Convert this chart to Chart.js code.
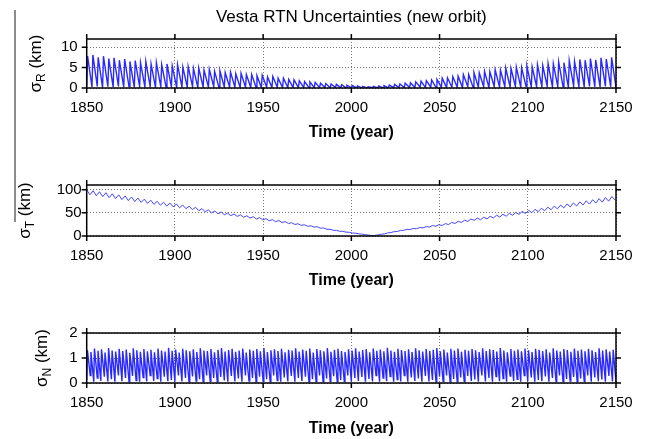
<!DOCTYPE html>
<html>
<head>
<meta charset="utf-8">
<script src="https://cdn.jsdelivr.net/npm/chart.js@4.4.1/dist/chart.umd.min.js"></script>
<style>
  html, body { margin: 0; padding: 0; background: #fff; }
  #wrap { position: relative; width: 648px; height: 439px; overflow: hidden; background: #fff; }
  #wrap canvas { position: absolute; left: 0; }
  #bar { position: absolute; left: 14px; top: 10px; width: 2px; height: 212px; background: #8c8c8c; }
</style>
</head>
<body>
<div id="wrap">
  <canvas id="chartR" width="648" height="150" style="top:0"></canvas>
  <canvas id="chartT" width="648" height="150" style="top:150px"></canvas>
  <canvas id="chartN" width="648" height="139" style="top:300px"></canvas>
  <div id="bar"></div>
</div>
<script>
// text
const title = "Vesta RTN Uncertainties (new orbit)";
const xLabel = "Time (year)";
const yearTicks = [1850, 1900, 1950, 2000, 2050, 2100, 2150];
const rTicks = [0, 5, 10];
const tTicks = [0, 50, 100];
const nTicks = [0, 1, 2];

// sigma R (km): low/high pairs, one pair per 3 yr cycle, high comes 0.5 yr after low
const rStart = 1850, rPeriod = 3.0, rRise = 0.5;
const sigmaR = [
    0.3, 7.8, 0.2, 8.1, 0.4, 7.5, 0.1, 7.8, 0.3, 7.2, 0.2, 7.4, 0.4, 6.8, 0.2, 7.1, 0.3, 6.5, 0.1, 6.7,
    0.3, 6.2, 0.2, 6.5, 0.3, 5.9, 0.1, 6.2, 0.3, 5.7, 0.2, 5.9, 0.3, 5.4, 0.1, 5.7, 0.2, 5.1, 0.2, 5.3,
    0.3, 4.8, 0.1, 4.9, 0.2, 4.4, 0.2, 4.6, 0.3, 4.1, 0.1, 4.2, 0.2, 3.8, 0.2, 3.9, 0.2, 3.5, 0.1, 3.6,
    0.2, 3.3, 0.1, 3.3, 0.2, 3.0, 0.1, 3.1, 0.2, 2.7, 0.1, 2.8, 0.2, 2.4, 0.1, 2.4, 0.1, 2.1, 0.1, 2.0,
    0.1, 1.8, 0.1, 1.6, 0.1, 1.5, 0.1, 1.4, 0.1, 1.2, 0.1, 1.1, 0.05, 1.0, 0.1, 0.9, 0.05, 0.8, 0.05, 0.7,
    0.05, 0.6, 0.05, 0.5, 0.05, 0.4, 0.05, 0.3, 0.05, 0.4, 0.05, 0.5, 0.05, 0.6, 0.05, 0.7, 0.1, 0.9, 0.1, 1.0,
    0.1, 1.2, 0.1, 1.3, 0.1, 1.5, 0.2, 1.7, 0.1, 1.8, 0.2, 2.0, 0.1, 2.1, 0.2, 2.4, 0.1, 2.5, 0.2, 2.8,
    0.2, 2.9, 0.1, 3.3, 0.3, 3.3, 0.2, 3.8, 0.2, 3.7, 0.3, 4.1, 0.1, 4.0, 0.3, 4.5, 0.2, 4.4, 0.3, 4.9,
    0.2, 4.8, 0.3, 5.1, 0.2, 5.0, 0.4, 5.4, 0.2, 5.2, 0.3, 5.7, 0.3, 5.5, 0.4, 6.0, 0.2, 5.9, 0.3, 6.4,
    0.3, 6.2, 0.2, 6.7, 0.4, 6.5, 0.3, 7.0, 0.2, 6.8, 0.4, 7.2, 0.3, 6.9, 0.2, 7.4, 0.4, 7.1, 0.3, 7.5,
    0.2
];

// sigma T (km): high/low pairs, one pair per orbit (3.63 yr), low half an orbit later
const tStart = 1850, tPeriod = 3.63, tRise = 1.815;
const sigmaT = [
    100, 89, 97.7, 86.9, 95.4, 84.8, 93.3, 82.7, 91, 80.6,
    88.7, 78.5, 86.4, 76.4, 84.1, 74.4, 81.8, 72.4, 79.5, 70.3,
    77.2, 68.2, 74.9, 66.3, 72.9, 64.6, 71, 62.9, 69, 61,
    66.7, 58.9, 64.3, 56.9, 61.9, 54.5, 59.2, 52.1, 56.5, 49.8,
    54, 47.8, 51.7, 45.8, 49.4, 43.9, 47.5, 42.2, 45.6, 40.5,
    43.6, 38.6, 41.6, 36.7, 39.5, 34.8, 37.4, 32.9, 35.3, 31,
    33.2, 29.1, 31, 27, 28.7, 24.9, 26.4, 22.9, 24.3, 21,
    22, 19.2, 19.9, 16.9, 17.3, 14.5, 14.6, 12.1, 12.2, 10.1,
    10.1, 8.3, 8, 6.4, 6, 4.6, 4, 2.8, 2, 0.7,
    1.3, 2.3, 3.8, 4.6, 6.7, 7.4, 9.4, 9.7, 12, 12.2,
    14.4, 14, 16.3, 15.7, 18.3, 17.5, 20.2, 19.3, 22.5, 21.1,
    24.4, 22.5, 26.7, 24.7, 29.2, 27, 31.6, 29.2, 34.1, 31.5,
    36.6, 33.7, 38.6, 35.2, 40.5, 36.8, 42.5, 39, 44.7, 40.9,
    46.8, 42.8, 48.9, 44.6, 50.9, 46.5, 53.1, 48.3, 55.3, 50.4,
    57.6, 52.4, 59.9, 54.4, 62.2, 56.5, 64.5, 58.6, 66.7, 60.6,
    69.1, 62.8, 71.3, 64.8, 73.6, 66.8, 75.9, 68.8, 78.3, 71,
    80.6, 73, 82.8, 75.1, 85.1, 77.2
];

// sigma N (km): low/high pairs, one pair per 2 yr cycle, high 0.4 yr after low
const nStart = 1850, nPeriod = 2.0, nRise = 0.4;
const sigmaN = [
    0.1, 1.32, 0.3, 1.24, 0.05, 1.38, 0.2, 1.29, 0.08, 1.35, 0.25, 1.22, 0.06, 1.4, 0.15, 1.3, 0.05, 1.26, 0.3, 1.37,
    0.07, 1.28, 0.2, 1.34, 0.05, 1.21, 0.28, 1.39, 0.1, 1.31, 0.05, 1.25, 0.22, 1.36, 0.06, 1.27, 0.3, 1.33, 0.08, 1.23,
    0.18, 1.38, 0.05, 1.3, 0.25, 1.26, 0.07, 1.41, 0.12, 1.29, 0.05, 1.34, 0.3, 1.22, 0.06, 1.37, 0.2, 1.31, 0.05, 1.27,
    0.26, 1.35, 0.08, 1.24, 0.15, 1.39, 0.05, 1.3, 0.3, 1.28, 0.07, 1.36, 0.2, 1.23, 0.05, 1.33, 0.24, 1.4, 0.1, 1.26,
    0.05, 1.32, 0.28, 1.37, 0.06, 1.25, 0.18, 1.3, 0.05, 1.38, 0.3, 1.22, 0.08, 1.34, 0.2, 1.29, 0.05, 1.36, 0.25, 1.27,
    0.07, 1.4, 0.15, 1.24, 0.05, 1.31, 0.3, 1.35, 0.1, 1.28, 0.05, 1.37, 0.22, 1.23, 0.06, 1.33, 0.28, 1.3, 0.05, 1.39,
    0.2, 1.26, 0.08, 1.34, 0.25, 1.29, 0.05, 1.38, 0.15, 1.22, 0.06, 1.36, 0.3, 1.31, 0.05, 1.27, 0.18, 1.4, 0.07, 1.25,
    0.27, 1.33, 0.05, 1.37, 0.12, 1.28, 0.06, 1.24, 0.3, 1.35, 0.05, 1.3, 0.2, 1.39, 0.08, 1.26, 0.24, 1.32, 0.05, 1.36,
    0.16, 1.23, 0.06, 1.38, 0.3, 1.29, 0.05, 1.34, 0.2, 1.27, 0.07, 1.41, 0.26, 1.3, 0.05, 1.25, 0.14, 1.37, 0.06, 1.32,
    0.3, 1.28, 0.05, 1.35, 0.22, 1.24, 0.08, 1.39, 0.18, 1.31, 0.05, 1.26, 0.28, 1.36, 0.06, 1.29, 0.12, 1.33, 0.05, 1.4,
    0.25, 1.27, 0.07, 1.34, 0.3, 1.22, 0.05, 1.37, 0.16, 1.3, 0.06, 1.38, 0.22, 1.25, 0.05, 1.33, 0.28, 1.29, 0.08, 1.36,
    0.14, 1.31, 0.05, 1.24, 0.3, 1.39, 0.06, 1.28, 0.2, 1.35, 0.05, 1.32, 0.26, 1.26, 0.07, 1.4, 0.18, 1.3, 0.05, 1.23,
    0.28, 1.36, 0.08, 1.29, 0.15, 1.34, 0.05, 1.27, 0.3, 1.38, 0.06, 1.31, 0.22, 1.24, 0.05, 1.37, 0.12, 1.33, 0.07, 1.28,
    0.26, 1.35, 0.05, 1.22, 0.2, 1.39, 0.06, 1.3, 0.3, 1.26, 0.05, 1.36, 0.16, 1.32, 0.08, 1.25, 0.24, 1.38, 0.05, 1.29,
    0.18, 1.34, 0.06, 1.27, 0.3, 1.37, 0.05, 1.31, 0.22, 1.24, 0.07, 1.39, 0.14, 1.3, 0.05, 1.35, 0.28, 1.26, 0.06, 1.33,
    0.05
];

const FONT = "'Liberation Sans', Arial, Helvetica, sans-serif";

// pair i/2 sits at start + cycle*period, its second value "rise" years later
function toPoints(values, start, period, rise) {
    return values.map((v, i) => ({
        x: start + Math.floor(i / 2) * period + (i % 2 ? rise : 0),
        y: v,
    }));
}

// box, outward ticks on all four sides, sigma label, main title
const frame = {
    id: "frame",
    afterDraw(chart, args, o) {
        const ctx = chart.ctx;
        const a = chart.chartArea;
        const xs = chart.scales.x;
        const ys = chart.scales.y;
        ctx.save();
        ctx.strokeStyle = "#000";
        ctx.lineWidth = 1.5;
        ctx.strokeRect(a.left, a.top, a.right - a.left, a.bottom - a.top);
        ctx.beginPath();
        for (const t of xs.ticks) {
            const px = xs.getPixelForValue(t.value);
            ctx.moveTo(px, a.bottom); ctx.lineTo(px, a.bottom + 5);
            ctx.moveTo(px, a.top); ctx.lineTo(px, a.top - 5);
        }
        for (const t of ys.ticks) {
            const py = ys.getPixelForValue(t.value);
            ctx.moveTo(a.left, py); ctx.lineTo(a.left - 5, py);
            ctx.moveTo(a.right, py); ctx.lineTo(a.right + 5, py);
        }
        ctx.stroke();

        if (o.title) {
            ctx.fillStyle = "#000";
            ctx.font = "17px " + FONT;
            ctx.textAlign = "center";
            ctx.textBaseline = "middle";
            ctx.fillText(o.title, (a.left + a.right) / 2, 17);
        }

        ctx.fillStyle = "#000";
        ctx.translate(o.labelX, (a.top + a.bottom) / 2);
        ctx.rotate(-Math.PI / 2);
        ctx.textAlign = "left";
        ctx.textBaseline = "middle";
        const big = "17px " + FONT, small = "12px " + FONT;
        ctx.font = big;
        const w1 = ctx.measureText("σ").width;
        const w3 = ctx.measureText(" (km)").width;
        ctx.font = small;
        const w2 = ctx.measureText(o.sub).width;
        let px = -(w1 + w2 + w3) / 2;
        ctx.font = big; ctx.fillText("σ", px, 0); px += w1;
        ctx.font = small; ctx.fillText(o.sub, px, 6); px += w2;
        ctx.font = big; ctx.fillText(" (km)", px, 0);
        ctx.restore();
    }
};

function makeChart(id, points, cfg) {
    return new Chart(document.getElementById(id), {
        type: "line",
        data: {
            datasets: [{
                data: points,
                borderColor: cfg.color,
                borderWidth: cfg.width,
                pointRadius: 0,
                tension: 0,
                fill: false,
            }],
        },
        options: {
            responsive: false,
            animation: false,
            devicePixelRatio: 1,
            layout: { padding: { top: cfg.top, right: 32, left: 0, bottom: 0 } },
            plugins: {
                legend: { display: false },
                tooltip: { enabled: false },
                frame: cfg,
            },
            scales: {
                x: {
                    type: "linear",
                    min: 1850,
                    max: 2150,
                    afterBuildTicks: (s) => { s.ticks = yearTicks.map((v) => ({ value: v })); },
                    afterFit: (s) => { s.height = cfg.xHeight; },
                    ticks: {
                        callback: (v) => String(v),
                        color: "#000",
                        font: { family: FONT, size: 15 },
                        padding: 11,
                        maxRotation: 0,
                        autoSkip: false,
                    },
                    grid: { color: "#777", lineWidth: 1, drawTicks: false },
                    border: { display: false, dash: [1, 2] },
                    title: {
                        display: true,
                        text: xLabel,
                        color: "#000",
                        font: { family: FONT, size: 16, weight: "bold" },
                        padding: { top: 0, bottom: cfg.titlePad },
                    },
                },
                y: {
                    type: "linear",
                    min: 0,
                    max: cfg.yMax,
                    afterBuildTicks: (s) => { s.ticks = cfg.yTicks.map((v) => ({ value: v })); },
                    afterFit: (s) => { s.width = 86.7; },
                    ticks: {
                        callback: (v) => String(v),
                        color: "#000",
                        font: { family: FONT, size: 15 },
                        padding: cfg.yPad,
                    },
                    grid: { color: "#777", lineWidth: 1, drawTicks: false },
                    border: { display: false, dash: [1, 2] },
                },
            },
        },
        plugins: [frame],
    });
}

makeChart("chartR", toPoints(sigmaR, rStart, rPeriod, rRise), {
    top: 39, xHeight: 62, titlePad: 8, yMax: 12, yTicks: rTicks, yPad: 9,
    sub: "R", labelX: 36, title: title, color: "rgb(40,40,255)", width: 1.4,
});
makeChart("chartT", toPoints(sigmaT, tStart, tPeriod, tRise), {
    top: 35, xHeight: 64, titlePad: 9.5, yMax: 110, yTicks: tTicks, yPad: 5,
    sub: "T", labelX: 25, color: "rgb(70,70,255)", width: 1,
});
makeChart("chartN", toPoints(sigmaN, nStart, nPeriod, nRise), {
    top: 33, xHeight: 56, titlePad: 1, yMax: 2, yTicks: nTicks, yPad: 9,
    sub: "N", labelX: 42, color: "rgb(40,40,255)", width: 1.4,
});
</script>
</body>
</html>
